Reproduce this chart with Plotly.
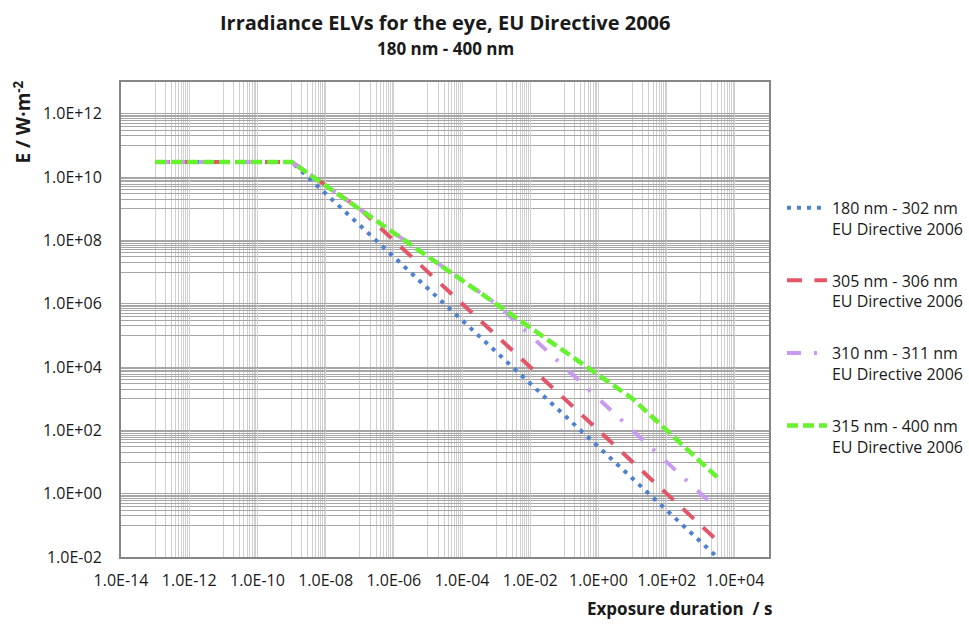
import plotly.graph_objects as go

# ---- data ----
t_blue = [1e-13, 1e-9, 3e3]
e_blue = [3e10, 3e10, 1e-2]

t_red = [1e-13, 1e-9, 1e-7, 3e3]
e_red = [3e10, 3e10, 1e9, 3.33e-2]

t_purple = [1e-13, 1e-9, 1e-3, 3e3]
e_purple = [3e10, 3e10, 1e6, 3.33e-1]

t_green = [1e-13, 1e-9, 1e1, 3e3]
e_green = [3e10, 3e10, 1e3, 3.33]

series_names = [
    "180 nm - 302 nm<br>EU Directive 2006",
    "305 nm - 306 nm<br>EU Directive 2006",
    "310 nm - 311 nm<br>EU Directive 2006",
    "315 nm - 400 nm<br>EU Directive 2006",
]

x_exponents = list(range(-14, 5, 2))
y_exponents = list(range(-2, 13, 2))
x_ticktext = [("1.0E-%02d" % -e) if e < 0 else ("1.0E+%02d" % e) for e in x_exponents]
y_ticktext = [("1.0E-%02d" % -e) if e < 0 else ("1.0E+%02d" % e) for e in y_exponents]

FONT = "Open Sans"
TXT = "#1a1a1a"

fig = go.Figure()
styles = [
    dict(color="#4F81D0", width=4, dash="4px,6px"),
    dict(color="#E3566A", width=4, dash="15px,12.5px"),
    dict(color="#C99AF2", width=4, dash="14px,13px,3px,14px"),
    dict(color="#66F22E", width=4.5, dash="11px,5px"),
]
for (tx, ey), name, st in zip(
    [(t_blue, e_blue), (t_red, e_red), (t_purple, e_purple), (t_green, e_green)],
    series_names, styles):
    fig.add_trace(go.Scatter(x=tx, y=ey, mode="lines", name=name, line=st,
                             legendgroup=name))

# minor gridlines: m * 10^(odd)
x_minor = [m * 10.0 ** k for k in range(-13, 5, 2) for m in range(1, 10)]
y_minor = [m * 10.0 ** k for k in range(-1, 13, 2) for m in range(1, 10)]

fig.update_layout(
    width=969, height=624,
    margin=dict(l=121, r=200, t=82, b=67, autoexpand=False),
    paper_bgcolor="white", plot_bgcolor="white",
    showlegend=True,
    legend=dict(x=1.02, xanchor="left", y=0.771, yanchor="top",
                font=dict(family=FONT, size=16, color=TXT),
                tracegroupgap=28, valign="top", itemwidth=40,
                bgcolor="rgba(0,0,0,0)"),
    font=dict(family=FONT, size=16, color=TXT),
)

fig.update_xaxes(
    type="log", range=[-14, 5],
    tickmode="array", tickvals=[10.0 ** e for e in x_exponents], ticktext=x_ticktext,
    tickfont=dict(family=FONT, size=16, color=TXT),
    showgrid=True, gridcolor="#D0D0D0", gridwidth=1,
    minor=dict(tickmode="array", tickvals=x_minor, showgrid=True,
               gridcolor="#D0D0D0", gridwidth=1, ticks=""),
    showline=True, linecolor="#868686", linewidth=2, mirror=True,
    ticks="", ticklabelstandoff=8, zeroline=False,
)
fig.update_yaxes(
    type="log", range=[-2, 13],
    tickmode="array", tickvals=[10.0 ** e for e in y_exponents], ticktext=y_ticktext,
    tickfont=dict(family=FONT, size=16, color=TXT),
    showgrid=True, gridcolor="#A6A6A6", gridwidth=1,
    minor=dict(tickmode="array", tickvals=y_minor, showgrid=True,
               gridcolor="#A6A6A6", gridwidth=1, ticks=""),
    showline=True, linecolor="#868686", linewidth=2, mirror=True,
    ticks="", ticklabelstandoff=14, zeroline=False,
)

fig.add_annotation(text="<b>Irradiance ELVs for the eye, EU Directive 2006</b>",
                   xref="paper", yref="paper", x=0.5, y=(557 - 22) / 475,
                   xanchor="center", yanchor="middle", showarrow=False,
                   font=dict(family=FONT, size=20, color=TXT))
fig.add_annotation(text="<b>180 nm - 400 nm</b>",
                   xref="paper", yref="paper", x=0.5, y=(557 - 49) / 475,
                   xanchor="center", yanchor="middle", showarrow=False,
                   font=dict(family=FONT, size=17, color=TXT))
fig.add_annotation(text="<b>E / W·m<sup>-2</sup></b>", textangle=-90,
                   xref="paper", yref="paper", x=(22 - 121) / 648, y=(557 - 78) / 475,
                   xanchor="center", yanchor="top", showarrow=False,
                   font=dict(family=FONT, size=19, color=TXT))
fig.add_annotation(text="<b>Exposure duration  / s</b>",
                   xref="paper", yref="paper", x=(774 - 121) / 648, y=(557 - 622) / 475,
                   xanchor="right", yanchor="bottom", showarrow=False,
                   font=dict(family=FONT, size=17, color=TXT))

fig.write_html(
    "out.html",
    config={"displayModeBar": False},
    post_script="document.body.style.margin='0';document.body.style.overflow='hidden';",
)
